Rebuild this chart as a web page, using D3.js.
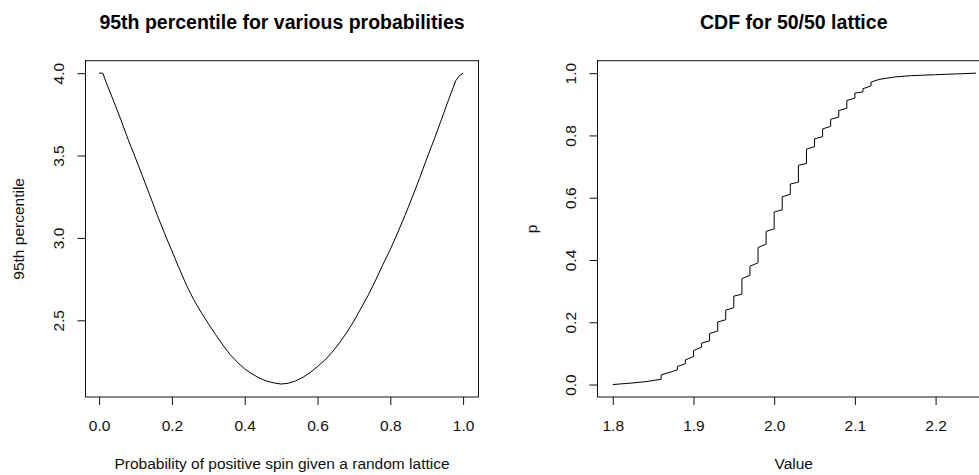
<!DOCTYPE html>
<html lang="en">
<head>
    <meta charset="UTF-8">
    <title>95th percentile / CDF</title>
    <script src="https://d3js.org/d3.v7.min.js"></script>
    <style>
        body{
            margin: 0;
            background-color: white;
            overflow: hidden;
        }
        #canvas{
            display: block;
            font-family: "Liberation Sans", Arial, sans-serif;
        }
        .title{
            font-size: 19.5px;
            font-weight: bold;
        }
        .axisLabel, .tick text{
            font-size: 15.5px;
        }
    </style>
</head>
<body>
<svg id="canvas" width="979" height="475"></svg>
<script>
    // left panel: 95th percentile vs probability
    let probs = [0, 0.01, 0.02, 0.04, 0.06, 0.08, 0.10, 0.12, 0.14, 0.16, 0.18, 0.20, 0.22, 0.24, 0.26, 0.28,
                 0.30, 0.32, 0.34, 0.36, 0.38, 0.40, 0.42, 0.44, 0.46, 0.48, 0.50, 0.52, 0.54, 0.56, 0.58, 0.60,
                 0.62, 0.64, 0.66, 0.68, 0.70, 0.72, 0.74, 0.76, 0.78, 0.80, 0.82, 0.84, 0.86, 0.88, 0.90, 0.92,
                 0.94, 0.96, 0.98, 0.99, 1.00]
    let percentile95 = [4.0, 4.0, 3.94, 3.83, 3.716, 3.596, 3.485, 3.37, 3.255, 3.137, 3.026, 2.921, 2.815, 2.712, 2.625, 2.55,
                        2.48, 2.413, 2.35, 2.292, 2.245, 2.205, 2.175, 2.15, 2.131, 2.12, 2.113, 2.118, 2.132, 2.154, 2.183, 2.219,
                        2.258, 2.306, 2.362, 2.425, 2.495, 2.575, 2.655, 2.745, 2.84, 2.93, 3.03, 3.135, 3.245, 3.36, 3.48, 3.595,
                        3.716, 3.838, 3.955, 3.985, 4.0]
    let leftXTicks = [0, 0.2, 0.4, 0.6, 0.8, 1.0]
    let leftYTicks = [2.5, 3.0, 3.5, 4.0]

    // right panel: empirical CDF points (vertical jumps repeat the x value)
    let cdfValue = [1.80, 1.82, 1.84, 1.85, 1.86, 1.86, 1.88, 1.88, 1.89, 1.89, 1.90, 1.90, 1.91, 1.91,
                    1.92, 1.92, 1.93, 1.93, 1.94, 1.94, 1.95, 1.95, 1.96, 1.96, 1.97, 1.97, 1.98, 1.98,
                    1.99, 1.99, 2.00, 2.00, 2.01, 2.01, 2.02, 2.02, 2.03, 2.03, 2.04, 2.04, 2.05, 2.05,
                    2.06, 2.06, 2.07, 2.07, 2.08, 2.08, 2.09, 2.09, 2.10, 2.10, 2.11, 2.11, 2.12, 2.12,
                    2.13, 2.15, 2.17, 2.20, 2.23, 2.25]
    let cdfProb = [0.000, 0.004, 0.009, 0.013, 0.017, 0.031, 0.047, 0.058, 0.067, 0.079, 0.090, 0.109, 0.120, 0.133,
                   0.140, 0.164, 0.172, 0.201, 0.208, 0.239, 0.247, 0.284, 0.290, 0.340, 0.351, 0.380, 0.391, 0.440,
                   0.451, 0.492, 0.500, 0.554, 0.561, 0.603, 0.611, 0.644, 0.650, 0.704, 0.710, 0.756, 0.764, 0.789,
                   0.796, 0.821, 0.829, 0.852, 0.859, 0.880, 0.887, 0.912, 0.920, 0.936, 0.940, 0.950, 0.959, 0.971,
                   0.980, 0.988, 0.992, 0.995, 0.998, 1.000]
    let rightXTicks = [1.8, 1.9, 2.0, 2.1, 2.2]
    let rightYTicks = [0, 0.2, 0.4, 0.6, 0.8, 1.0]

    let svg = d3.select('#canvas')
    let plotTop = 60.7, plotBottom = 397

    function panel(opts){
        let g = svg.append('g')
        let x = d3.scaleLinear().domain(opts.xDomain).range([opts.left, opts.right])
        let y = d3.scaleLinear().domain(opts.yDomain).range([plotBottom, plotTop])

        // x axis
        let xAxis = g.append('g')
            .attr('transform', 'translate(0,' + plotBottom + ')')
            .call(d3.axisBottom(x).tickValues(opts.xTicks).tickFormat(d3.format('.1f')).tickSize(8))
        xAxis.select('.domain').remove()
        xAxis.selectAll('.tick line').attr('stroke', '#111')
        xAxis.selectAll('.tick text').attr('fill', '#111').attr('dy', 0).attr('y', 34)

        // y axis, labels rotated like R
        let yAxis = g.append('g')
            .attr('transform', 'translate(' + opts.left + ',0)')
            .call(d3.axisLeft(y).tickValues(opts.yTicks).tickFormat(d3.format('.1f')).tickSize(8))
        yAxis.select('.domain').remove()
        yAxis.selectAll('.tick line').attr('stroke', '#111')
        yAxis.selectAll('.tick text')
            .attr('fill', '#111')
            .attr('transform', 'rotate(-90)')
            .attr('x', 0)
            .attr('y', -22)
            .attr('dy', 0)
            .attr('text-anchor', 'middle')

        // data line
        let line = d3.line().x(d => x(d[0])).y(d => y(d[1]))
        g.append('path')
            .datum(d3.zip(opts.xs, opts.ys))
            .attr('d', line)
            .attr('fill', 'none')
            .attr('stroke', '#000')
            .attr('stroke-width', 1)

        // box
        g.append('rect')
            .attr('x', opts.left).attr('y', plotTop)
            .attr('width', opts.right - opts.left).attr('height', plotBottom - plotTop)
            .attr('fill', 'none').attr('stroke', '#111').attr('stroke-width', 1)

        let mid = (opts.left + opts.right) / 2
        g.append('text').attr('class', 'title')
            .attr('x', mid).attr('y', 29).attr('text-anchor', 'middle')
            .text(opts.title)
        g.append('text').attr('class', 'axisLabel')
            .attr('x', mid).attr('y', 469).attr('text-anchor', 'middle').attr('fill', '#111')
            .text(opts.xLabel)
        g.append('text').attr('class', 'axisLabel')
            .attr('transform', 'translate(' + opts.yLabelX + ',' + ((plotTop + plotBottom) / 2) + ') rotate(-90)')
            .attr('text-anchor', 'middle').attr('fill', '#111')
            .text(opts.yLabel)
    }

    panel({
        left: 85.5, right: 478.5,
        xDomain: [-0.0374, 1.0423], yDomain: [2.0344, 4.0756],
        xTicks: leftXTicks, yTicks: leftYTicks,
        xs: probs, ys: percentile95,
        title: '95th percentile for various probabilities',
        xLabel: 'Probability of positive spin given a random lattice',
        yLabel: '95th percentile', yLabelX: 24
    })

    panel({
        left: 597.5, right: 990,
        xDomain: [1.7811, 2.2674], yDomain: [-0.04, 1.04],
        xTicks: rightXTicks, yTicks: rightYTicks,
        xs: cdfValue, ys: cdfProb,
        title: 'CDF for 50/50 lattice',
        xLabel: 'Value',
        yLabel: 'p', yLabelX: 537
    })
</script>
</body>
</html>
